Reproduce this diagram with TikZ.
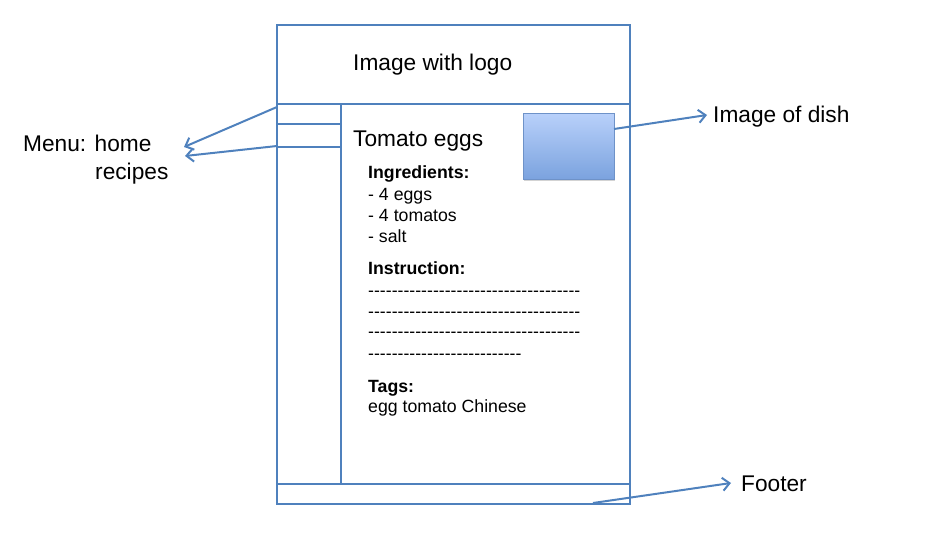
\documentclass[tikz,border=0pt]{standalone}
\usepackage{fontspec}
\setmainfont{Liberation Sans}
\newfontfamily\noligfont{Liberation Sans}[Ligatures=TeXOff]
\usetikzlibrary{arrows.meta,shadows}
\definecolor{lineblue}{RGB}{79,129,189}
\definecolor{dishtop}{RGB}{184,208,250}
\definecolor{dishbot}{RGB}{122,162,222}
\definecolor{dishedge}{RGB}{110,146,200}
\tikzset{
  frame/.style={draw=lineblue, line width=2pt},
  pointer/.style={draw=lineblue, line width=2pt, -{Straight Barb[length=7pt,width=13pt,line width=2pt]}},
  biglabel/.style={anchor=base west, inner sep=0pt, font=\fontsize{22.7}{27}\selectfont},
  smalltext/.style={anchor=base west, inner sep=0pt, font=\fontsize{17.7}{21}\selectfont},
  boldtext/.style={smalltext, font=\fontsize{17.7}{21}\selectfont\bfseries},
  dashtext/.style={smalltext, font=\fontsize{17.7}{21}\noligfont},
  dishbox/.style={draw=dishedge, line width=1pt, minimum width=91pt, minimum height=66pt, inner sep=0pt,
    top color=dishtop, bottom color=dishbot, drop shadow={shadow xshift=1pt, shadow yshift=-1.5pt, opacity=0.35}}
}
\begin{document}
\begin{tikzpicture}[x=1pt,y=-1pt]
\useasboundingbox (0,0) rectangle (930,553);
% page frame
\draw[frame] (277,25) rectangle (630,504);
\draw[frame] (277,104) -- (630,104);
\draw[frame] (341,104) -- (341,484);
\draw[frame] (277,124) -- (341,124);
\draw[frame] (277,147) -- (341,147);
\draw[frame] (277,484) -- (630,484);
% dish image
\node[dishbox] (dish) at (568.5,147) {};
% texts
\node[biglabel] (logo) at (353,71) {Image with logo};
\node[biglabel] (title) at (353,147) {Tomato eggs};
\node[boldtext] (ingr) at (368,179) {Ingredients:};
\node[smalltext] (i1) at (368,201) {- 4 eggs};
\node[smalltext] (i2) at (368,222) {- 4 tomatos};
\node[smalltext] (i3) at (368,243) {- salt};
\node[boldtext] (instr) at (368,275) {Instruction:};
\node[dashtext] (d1) at (368,297) {------------------------------------};
\node[dashtext] (d2) at (368,318) {------------------------------------};
\node[dashtext] (d3) at (368,338) {------------------------------------};
\node[dashtext] (d4) at (368,360) {--------------------------};
\node[boldtext] (tags) at (368,393) {Tags:};
\node[smalltext] (tagl) at (368,413) {egg tomato Chinese};
% side labels
\node[biglabel] (menu1) at (23,152) {Menu: home};
\node[biglabel] (menu2) at (95,180) {recipes};
\node[biglabel] (dishlbl) at (713,123) {Image of dish};
\node[biglabel] (footer) at (741,491) {Footer};
% connector endpoints
\coordinate (mA) at (277,107);
\coordinate (mB) at (277,146);
\coordinate (homeEnd) at (184,147);
\coordinate (recEnd) at (185,156);
\coordinate (dishStart) at (614,129);
\coordinate (dishEnd) at (707,115);
\coordinate (footStart) at (593,503);
\coordinate (footEnd) at (731,483);
\draw[pointer] (mA) -- (homeEnd);
\draw[pointer] (mB) -- (recEnd);
\draw[pointer] (dishStart) -- (dishEnd);
\draw[pointer] (footStart) -- (footEnd);
\end{tikzpicture}
\end{document}
